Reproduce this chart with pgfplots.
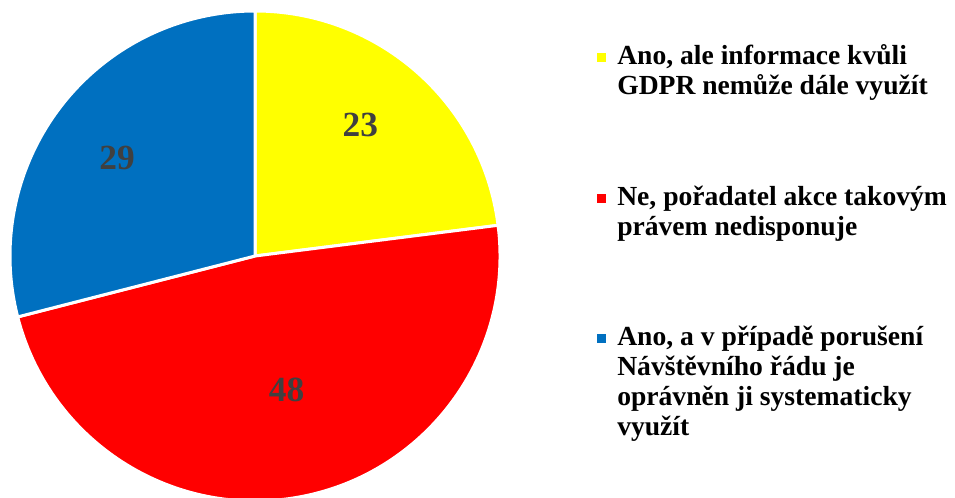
\documentclass[border=0pt]{standalone}
\usepackage{fontspec}
\setmainfont{Liberation Serif}
\usepackage{pgfplots}
\pgfplotsset{compat=1.18}
\definecolor{pieyellow}{HTML}{FFFF00}
\definecolor{piered}{HTML}{FF0000}
\definecolor{pieblue}{HTML}{0070C0}
\definecolor{labelgray}{HTML}{404040}

\begin{document}
\begin{tikzpicture}
\begin{axis}[
    at={(191.25pt,180.75pt)}, anchor=center,
    hide axis,
    x=183.75pt, y=183.75pt,
    xmin=-1, xmax=1, ymin=-1, ymax=1,
    clip=false,
]
\gdef\cum{0}
% value / colour / label distance (fraction of radius)
\foreach \val/\col/\lr in {23/pieyellow/0.685, 48/piered/0.56, 29/pieblue/0.69} {
    \pgfmathsetmacro\a{90-3.6*\cum}
    \pgfmathsetmacro\b{90-3.6*(\cum+\val)}
    \pgfmathsetmacro\m{(\a+\b)/2+2.5}
    \pgfmathsetmacro\ca{cos(\a)}
    \pgfmathsetmacro\sa{sin(\a)}
    \pgfmathsetmacro\lx{\lr*cos(\m)}
    \pgfmathsetmacro\ly{\lr*sin(\m)}
    \edef\temp{\noexpand\fill[\col, draw=white, line width=2.25pt, line join=round]
        (axis cs:0,0) -- (axis cs:\ca,\sa)
        arc[start angle=\a, end angle=\b, radius=183.75pt] -- cycle;
        \noexpand\node[text=labelgray, font=\noexpand\fontsize{26.5}{30}\noexpand\selectfont\noexpand\bfseries]
        at (axis cs:\lx,\ly) {\val};}
    \temp
    \pgfmathparse{\cum+\val}\xdef\cum{\pgfmathresult}
}
\end{axis}

% legend, in pixel coordinates from the top-left corner
\begin{scope}[x=0.75pt, y=-0.75pt, shift={(0,-497)},
    every node/.style={anchor=base west, inner sep=0pt,
    font=\fontsize{20.7}{22.5}\selectfont\bfseries}]
\fill[pieyellow] (596.5,53.5) rectangle (605.5,62.5);
\node at (617,65) {Ano, ale informace kvůli};
\node at (617,95) {GDPR nemůže dále využít};
\fill[piered] (596.5,193.5) rectangle (605.5,202.5);
\node at (617,205) {Ne, pořadatel akce takovým};
\node at (617,235) {právem nedisponuje};
\fill[pieblue] (596.5,333.5) rectangle (605.5,342.5);
\node at (617,345) {Ano, a v případě porušení};
\node at (617,375) {Návštěvního řádu je};
\node at (617,405) {oprávněn ji systematicky};
\node at (617,435) {využít};
\end{scope}

\pgfresetboundingbox
\useasboundingbox (0,0) rectangle (716.25pt,372.75pt);
\end{tikzpicture}
\end{document}
